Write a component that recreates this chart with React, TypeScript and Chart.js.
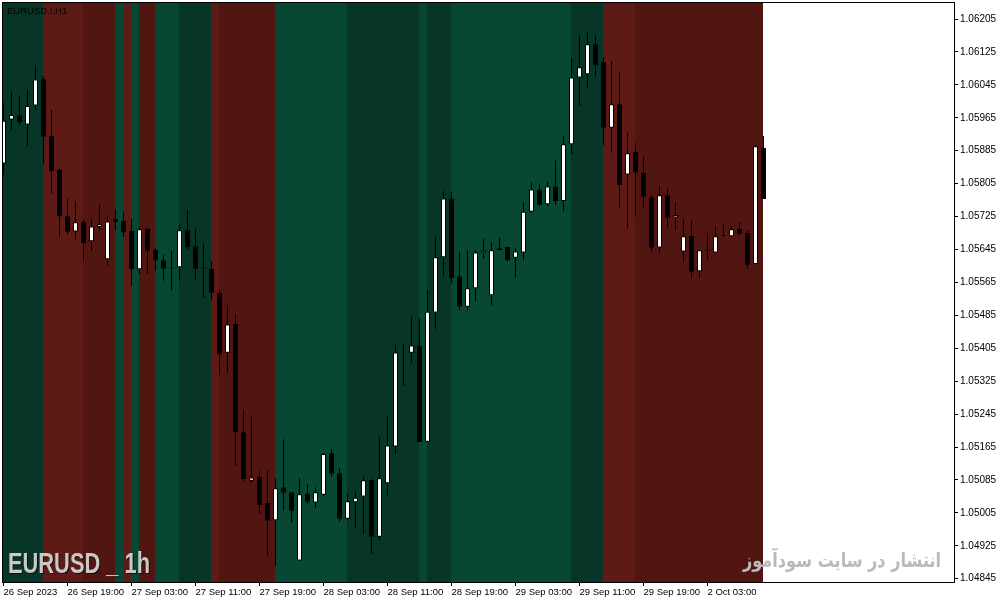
import { useEffect, useRef } from 'react';
import { Chart, registerables } from 'chart.js';

Chart.register(...registerables);

// ── EURUSD H1 candles ────────────────────────────────────────────
const opens = [
  1.05854, 1.05961, 1.05971, 1.05949, 1.05995, 1.06059, 1.05921, 1.05838, 1.05726, 1.05689,
  1.05712, 1.05665, 1.05700, 1.05621, 1.05719, 1.05714, 1.05690, 1.05597, 1.05696, 1.05644,
  1.05619, 1.05599, 1.05602, 1.05692, 1.05653, 1.05598, 1.05598, 1.05539, 1.05394, 1.05464,
  1.05201, 1.05083, 1.05092, 1.05029, 1.04987, 1.05067, 1.05055, 1.04889, 1.05052, 1.05030,
  1.05049, 1.05150, 1.05101, 1.04991, 1.05031, 1.05045, 1.05085, 1.04947, 1.05077, 1.05166,
  1.05395, 1.05394, 1.05412, 1.05178, 1.05492, 1.05626, 1.05769, 1.05580, 1.05506, 1.05551,
  1.05638, 1.05534, 1.05648, 1.05651, 1.05625, 1.05638, 1.05737, 1.05791, 1.05755, 1.05798,
  1.05763, 1.05901, 1.06063, 1.06071, 1.06144, 1.06101, 1.05941, 1.05998, 1.05827, 1.05882,
  1.05831, 1.05772, 1.05650, 1.05777, 1.05723, 1.05640, 1.05678, 1.05592, 1.05642, 1.05638,
  1.05677, 1.05677, 1.05695, 1.05685, 1.05610, 1.05892,
];
const highs = [
  1.06001, 1.06030, 1.06018, 1.06034, 1.06093, 1.06066, 1.05984, 1.05842, 1.05768, 1.05763,
  1.05717, 1.05719, 1.05753, 1.05726, 1.05743, 1.05734, 1.05719, 1.05700, 1.05696, 1.05648,
  1.05632, 1.05642, 1.05707, 1.05741, 1.05696, 1.05660, 1.05617, 1.05546, 1.05510, 1.05488,
  1.05257, 1.05239, 1.05107, 1.05108, 1.05089, 1.05184, 1.05055, 1.05090, 1.05075, 1.05067,
  1.05150, 1.05160, 1.05114, 1.05052, 1.05058, 1.05092, 1.05087, 1.05189, 1.05240, 1.05413,
  1.05417, 1.05483, 1.05478, 1.05546, 1.05678, 1.05787, 1.05784, 1.05641, 1.05644, 1.05644,
  1.05672, 1.05663, 1.05675, 1.05651, 1.05648, 1.05760, 1.05809, 1.05804, 1.05811, 1.05862,
  1.05921, 1.06111, 1.06166, 1.06173, 1.06166, 1.06113, 1.06103, 1.06077, 1.05929, 1.05904,
  1.05870, 1.05776, 1.05799, 1.05792, 1.05760, 1.05719, 1.05714, 1.05643, 1.05685, 1.05702,
  1.05707, 1.05702, 1.05712, 1.05692, 1.05899, 1.05921,
];
const lows = [
  1.05826, 1.05934, 1.05947, 1.05895, 1.05984, 1.05853, 1.05781, 1.05676, 1.05681, 1.05668,
  1.05618, 1.05642, 1.05691, 1.05607, 1.05692, 1.05676, 1.05557, 1.05585, 1.05585, 1.05593,
  1.05569, 1.05546, 1.05569, 1.05644, 1.05572, 1.05528, 1.05522, 1.05340, 1.05346, 1.05119,
  1.05081, 1.05078, 1.05002, 1.04901, 1.04876, 1.05010, 1.04981, 1.04889, 1.05026, 1.05017,
  1.05046, 1.05093, 1.04983, 1.04986, 1.04968, 1.04954, 1.04905, 1.04939, 1.05044, 1.05148,
  1.05313, 1.05370, 1.05177, 1.05178, 1.05452, 1.05579, 1.05563, 1.05498, 1.05496, 1.05520,
  1.05623, 1.05510, 1.05644, 1.05615, 1.05576, 1.05619, 1.05734, 1.05751, 1.05751, 1.05753,
  1.05738, 1.05877, 1.05994, 1.06038, 1.06065, 1.05899, 1.05880, 1.05746, 1.05698, 1.05726,
  1.05744, 1.05640, 1.05637, 1.05698, 1.05692, 1.05613, 1.05574, 1.05576, 1.05620, 1.05638,
  1.05677, 1.05675, 1.05678, 1.05598, 1.05610, 1.05768,
];
const closes = [
  1.05958, 1.05972, 1.05955, 1.05994, 1.06058, 1.05919, 1.05836, 1.05725, 1.05688, 1.05711,
  1.05661, 1.05701, 1.05707, 1.05713, 1.05712, 1.05686, 1.05597, 1.05694, 1.05642, 1.05618,
  1.05598, 1.05599, 1.05692, 1.05650, 1.05597, 1.05598, 1.05540, 1.05391, 1.05463, 1.05200,
  1.05087, 1.05091, 1.05024, 1.04986, 1.05065, 1.05054, 1.05010, 1.05050, 1.05032, 1.05055,
  1.05148, 1.05100, 1.04991, 1.05033, 1.05042, 1.05084, 1.04947, 1.05089, 1.05169, 1.05395,
  1.05395, 1.05412, 1.05177, 1.05494, 1.05626, 1.05769, 1.05576, 1.05506, 1.05551, 1.05638,
  1.05643, 1.05643, 1.05644, 1.05619, 1.05640, 1.05737, 1.05791, 1.05754, 1.05798, 1.05763,
  1.05901, 1.06063, 1.06088, 1.06144, 1.06092, 1.05941, 1.05998, 1.05802, 1.05879, 1.05832,
  1.05773, 1.05649, 1.05777, 1.05722, 1.05729, 1.05677, 1.05591, 1.05643, 1.05642, 1.05677,
  1.05677, 1.05694, 1.05683, 1.05608, 1.05896, 1.05768,
];

// background regime bands: last candle of each run + its state
const bandEnds = [5, 10, 14, 15, 16, 17, 19, 22, 26, 27, 34, 43, 52, 53, 56, 71, 75, 79, 95];
const bandStates = ['dg', 'r', 'dr', 'g', 'r', 'g', 'dr', 'g', 'dg', 'r', 'dr', 'g', 'dg', 'g', 'dg', 'g', 'dg', 'r', 'dr'];

const xTickPos = [0, 8, 16, 24, 32, 40, 48, 56, 64, 72, 80, 88];
const xTickLabels = [
  '26 Sep 2023', '26 Sep 19:00', '27 Sep 03:00', '27 Sep 11:00', '27 Sep 19:00', '28 Sep 03:00',
  '28 Sep 11:00', '28 Sep 19:00', '29 Sep 03:00', '29 Sep 11:00', '29 Sep 19:00', '2 Oct 03:00',
];
const yTicks = [
  1.04845, 1.04925, 1.05005, 1.05085, 1.05165, 1.05245, 1.05325, 1.05405, 1.05485,
  1.05565, 1.05645, 1.05725, 1.05805, 1.05885, 1.05965, 1.06045, 1.06125, 1.06205,
];

const BAND_COLORS: Record<string, string> = {
  g: '#084734',
  dg: '#073629',
  r: '#5e1a15',
  dr: '#511612',
};

const mtDecor = {
  id: 'mtDecor',
  beforeDraw(chart: any) {
    const { ctx, width, height } = chart;
    ctx.save();
    ctx.fillStyle = '#ffffff';
    ctx.fillRect(0, 0, width, height);
    ctx.restore();
  },
  beforeDatasetsDraw(chart: any) {
    const { ctx, chartArea: a, scales } = chart;
    const x = scales.x;
    ctx.save();
    ctx.beginPath();
    ctx.rect(a.left, a.top, a.right - a.left, a.bottom - a.top);
    ctx.clip();

    let prev = -1;
    bandEnds.forEach((end, k) => {
      const x0 = Math.floor(x.getPixelForValue(prev));
      const x1 = Math.floor(x.getPixelForValue(end));
      ctx.fillStyle = BAND_COLORS[bandStates[k]];
      ctx.fillRect(x0, a.top, x1 - x0, a.bottom - a.top);
      prev = end;
    });

    // symbol watermark, bottom left (narrow bold)
    ctx.save();
    ctx.font = 'bold 30px "Liberation Sans", Arial, sans-serif';
    const t1 = 'EURUSD _ 1h';
    const w1 = ctx.measureText(t1).width;
    ctx.translate(8, 573);
    ctx.scale(142 / w1, 1);
    ctx.shadowColor = 'rgba(0,0,0,0.7)';
    ctx.shadowOffsetX = 1;
    ctx.shadowOffsetY = 1;
    ctx.fillStyle = '#c8c8c8';
    ctx.textBaseline = 'alphabetic';
    ctx.fillText(t1, 0, 0);
    ctx.restore();

    // site watermark, bottom right
    ctx.save();
    ctx.font = 'bold 20px "DejaVu Sans", sans-serif';
    const t2 = 'انتشار در سایت سودآموز';
    const w2 = ctx.measureText(t2).width;
    ctx.translate(941, 567);
    ctx.scale(198 / w2, 1);
    ctx.textAlign = 'right';
    ctx.fillStyle = '#bababa';
    ctx.fillText(t2, 0, 0);
    ctx.restore();

    ctx.restore();
  },
  afterDatasetsDraw(chart: any) {
    const { ctx, chartArea: a } = chart;
    ctx.save();
    ctx.strokeStyle = '#000';
    ctx.lineWidth = 1;
    ctx.strokeRect(a.left + 0.5, a.top - 0.5, a.right - a.left - 1, a.bottom - a.top + 1);
    ctx.font = '9.5px "Liberation Sans", sans-serif';
    ctx.fillStyle = '#000';
    ctx.fillText('EURUSD.I,H1', 7, 14);
    ctx.restore();
  },
};

export default function App() {
  const canvasRef = useRef<HTMLCanvasElement>(null);

  useEffect(() => {
    if (!canvasRef.current) return;

    const idx = opens.map((_, i) => i);
    const bodyFill = idx.map((i) => (closes[i] > opens[i] ? '#ffffff' : '#000000'));

    const chart = new Chart(canvasRef.current, {
      type: 'bar',
      data: {
        datasets: [
          {
            label: 'body',
            data: idx.map((i) => ({ x: i, y: [opens[i], closes[i]] })) as any,
            backgroundColor: bodyFill,
            borderColor: '#000000',
            borderWidth: 1,
            borderSkipped: false,
            grouped: false,
            categoryPercentage: 1,
            barPercentage: 0.625,
            minBarLength: 1,
          },
          {
            label: 'wick',
            data: idx.map((i) => ({ x: i, y: [lows[i], highs[i]] })) as any,
            backgroundColor: '#000000',
            borderWidth: 0,
            inflateAmount: 0,
            grouped: false,
            categoryPercentage: 1,
            barPercentage: 0.125,
          },
        ],
      },
      options: {
        responsive: true,
        maintainAspectRatio: false,
        animation: false,
        devicePixelRatio: 1,
        layout: { padding: { left: 2, top: 3, right: 0, bottom: 0 } },
        plugins: {
          legend: { display: false },
          tooltip: { enabled: false },
        },
        scales: {
          x: {
            type: 'linear',
            min: -0.1875,
            max: 118.9375,
            offset: false,
            afterBuildTicks: (s: any) => { s.ticks = xTickPos.map((v) => ({ value: v })); },
            afterFit: (s: any) => { s.height = 21; s.paddingLeft = 0; s.paddingRight = 0; },
            grid: { offset: false, drawOnChartArea: false, drawTicks: true, tickLength: 4, color: '#000' },
            border: { display: false },
            ticks: {
              autoSkip: false,
              maxRotation: 0,
              align: 'start',
              padding: 1,
              color: '#000',
              font: { family: '"Liberation Sans", sans-serif', size: 9.5 },
              callback: (_v: any, i: number) => xTickLabels[i],
            },
          },
          y: {
            type: 'linear',
            position: 'right',
            min: 1.04837,
            max: 1.06244,
            beginAtZero: false,
            afterBuildTicks: (s: any) => { s.ticks = yTicks.map((v) => ({ value: v })); },
            afterFit: (s: any) => { s.width = 47; s.paddingTop = 0; s.paddingBottom = 0; },
            grid: { drawOnChartArea: false, drawTicks: true, tickLength: 3, color: '#000' },
            border: { display: false },
            ticks: {
              autoSkip: false,
              padding: 2,
              color: '#000',
              font: { family: '"Liberation Sans", sans-serif', size: 10 },
              callback: (v: any) => Number(v).toFixed(5),
            },
          },
        },
      } as any,
      plugins: [mtDecor],
    });

    return () => { chart.destroy(); };
  }, []);

  return (
    <div style={{ position: 'fixed', left: 0, top: 0, width: 1002, height: 603, background: '#fff' }}>
      <canvas ref={canvasRef} />
    </div>
  );
}
